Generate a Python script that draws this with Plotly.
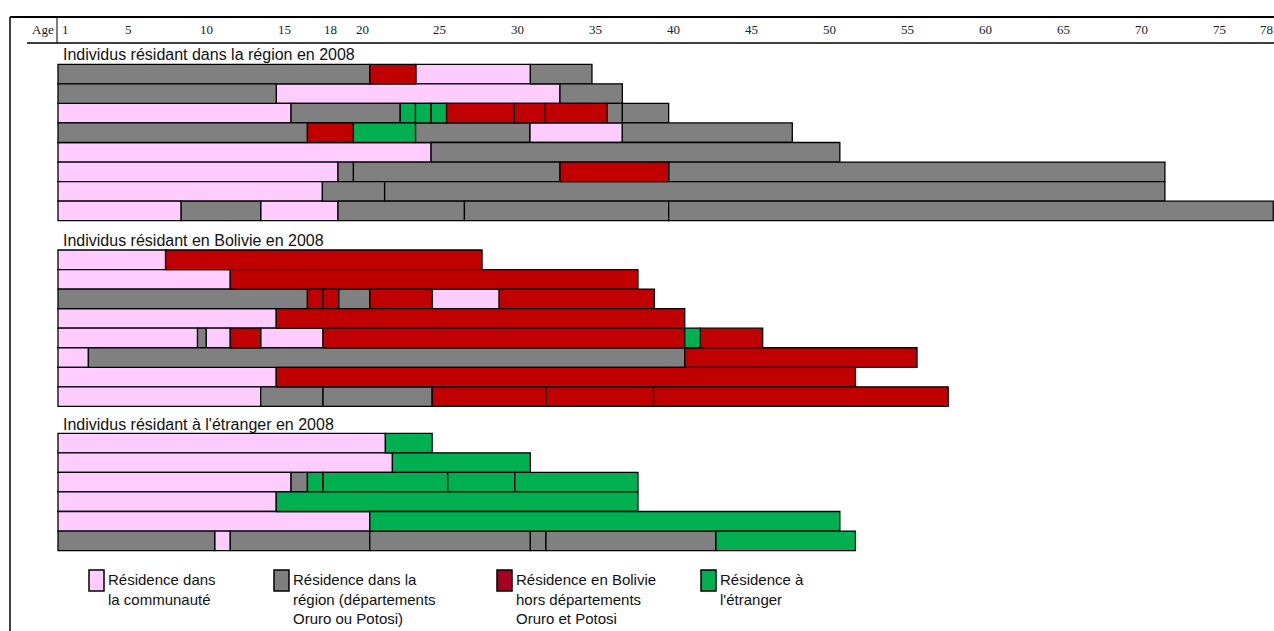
import plotly.graph_objects as go

# ---------------- data ----------------
categories = ["C", "R", "B", "E"]
cat_labels = {
    "C": "Résidence dans<br>la communauté",
    "R": "Résidence dans la<br>région (départements<br>Oruro ou Potosi)",
    "B": "Résidence en Bolivie<br>hors départements<br>Oruro et Potosi",
    "E": "Résidence à<br>l'étranger",
}
group_titles = [
    "Individus résidant dans la région en 2008",
    "Individus résidant en Bolivie en 2008",
    "Individus résidant à l'étranger en 2008",
]

# group 1 : residing in the region in 2008
g1_bounds = [
    [0, 20.0, 22.95, 30.3, 34.25],
    [0, 14.0, 32.2, 36.2],
    [0, 14.95, 21.95, 22.93, 23.93, 24.92, 29.27, 31.26, 35.23, 36.2, 39.17],
    [0, 16.0, 18.95, 22.93, 30.26, 36.2, 47.1],
    [0, 23.93, 50.15],
    [0, 17.96, 18.95, 32.2, 39.17, 71.0],
    [0, 16.96, 20.95, 71.0],
    [0, 7.9, 13.0, 17.96, 26.07, 39.17, 77.95],
]
g1_cats = [
    ["R", "B", "C", "R"],
    ["R", "C", "R"],
    ["C", "R", "E", "E", "E", "B", "B", "B", "R", "R"],
    ["R", "B", "E", "R", "C", "R"],
    ["C", "R"],
    ["C", "R", "R", "B", "R"],
    ["C", "R", "R"],
    ["C", "R", "C", "R", "R", "R"],
]

# group 2 : residing in Bolivia in 2008
g2_bounds = [
    [0, 6.9, 27.2],
    [0, 11.05, 37.2],
    [0, 16.0, 17.0, 18.0, 20.0, 24.0, 28.3, 38.25],
    [0, 14.0, 40.2],
    [0, 8.95, 9.5, 11.05, 13.0, 17.0, 40.2, 41.2, 45.2],
    [0, 1.95, 40.2, 55.1],
    [0, 14.0, 51.15],
    [0, 13.0, 17.0, 24.0, 31.3, 38.2, 57.1],
]
g2_cats = [
    ["C", "B"],
    ["C", "B"],
    ["R", "B", "B", "R", "B", "C", "B"],
    ["C", "B"],
    ["C", "R", "C", "B", "C", "B", "E", "B"],
    ["C", "R", "B"],
    ["C", "B"],
    ["C", "R", "R", "B", "B", "B"],
]

# group 3 : residing abroad in 2008
g3_bounds = [
    [0, 21.0, 24.0],
    [0, 21.45, 30.3],
    [0, 14.95, 16.0, 17.0, 25.0, 29.3, 37.2],
    [0, 14.0, 37.2],
    [0, 20.0, 50.15],
    [0, 10.05, 11.05, 20.0, 30.3, 31.3, 42.2, 51.15],
]
g3_cats = [
    ["C", "E"],
    ["C", "E"],
    ["C", "R", "E", "E", "E", "E"],
    ["C", "E"],
    ["C", "E"],
    ["R", "C", "R", "R", "R", "R", "E"],
]

tick_ages = [1, 5, 10, 15, 18, 20, 25, 30, 35, 40, 45, 50, 55, 60, 65, 70, 75, 78]

# ---------------- styles / layout ----------------
W, H = 1274, 631
X0_PX, PX_PER_YEAR = 58, 15.59
ROW_H = 19.55
group_tops = [64.3, 250.0, 433.3]       # page pixels
title_y = [54, 240.5, 424]              # page pixels

bar_colors = {"C": "#FFCCFF", "R": "#808080", "B": "#C00000", "E": "#00B050"}
legend_colors = {"C": "#FFCCFF", "R": "#7F7F7F", "B": "#A50021", "E": "#00B050"}
legend_box_x = [89, 274, 497, 701]      # page pixels


def fx(px):  # page px -> paper x
    return px / W


groups = [(g1_bounds, g1_cats), (g2_bounds, g2_cats), (g3_bounds, g3_cats)]

seg = {c: {"base": [], "len": [], "y": []} for c in categories}
for gi, (bounds, cats) in enumerate(groups):
    for ri, (b, cs) in enumerate(zip(bounds, cats)):
        yc = group_tops[gi] + (ri + 0.5) * ROW_H
        for k, c in enumerate(cs):
            seg[c]["base"].append(b[k])
            seg[c]["len"].append(b[k + 1] - b[k])
            seg[c]["y"].append(yc)

fig = go.Figure()
for c in categories:
    fig.add_trace(go.Bar(
        orientation="h",
        base=seg[c]["base"], x=seg[c]["len"], y=seg[c]["y"],
        width=ROW_H,
        marker=dict(color=bar_colors[c], line=dict(color="black", width=1.3)),
        showlegend=False, hoverinfo="skip",
    ))

shapes = []
annotations = []

# frame lines
shapes.append(dict(type="line", xref="paper", yref="y", x0=fx(10), x1=1, y0=17, y1=17,
                   line=dict(color="black", width=2.2)))
shapes.append(dict(type="line", xref="paper", yref="y", x0=fx(10), x1=fx(10), y0=17, y1=H,
                   line=dict(color="black", width=1.5)))
shapes.append(dict(type="line", xref="paper", yref="y", x0=fx(27), x1=1, y0=43, y1=43,
                   line=dict(color="black", width=1.3)))
shapes.append(dict(type="line", xref="paper", yref="y", x0=fx(57), x1=fx(57), y0=17, y1=43,
                   line=dict(color="black", width=1)))

# header tick labels
annotations.append(dict(x=fx(43), xref="paper", y=29, yref="y", text="Age", showarrow=False,
                        xanchor="center", yanchor="middle",
                        font=dict(family="Liberation Serif", size=13, color="#222")))
for a in tick_ages:
    annotations.append(dict(x=a - 0.5, xref="x", y=29, yref="y", text=str(a), showarrow=False,
                            xanchor="center", yanchor="middle",
                            font=dict(family="Liberation Serif", size=13, color="#222")))

# group titles
for t, yy in zip(group_titles, title_y):
    annotations.append(dict(x=fx(61), xref="paper", y=yy, yref="y", text=t, showarrow=False,
                            xanchor="left", yanchor="middle",
                            font=dict(family="Liberation Sans", size=16, color="#111")))

# legend
for c, bx in zip(categories, legend_box_x):
    shapes.append(dict(type="rect", xref="paper", yref="y", x0=fx(bx), x1=fx(bx + 15),
                       y0=570, y1=591, fillcolor=legend_colors[c],
                       line=dict(color="black", width=1.5)))
    annotations.append(dict(x=fx(bx + 17), xref="paper", y=569, yref="y", text=cat_labels[c],
                            showarrow=False, xanchor="left", yanchor="top", align="left",
                            font=dict(family="Liberation Sans", size=15, color="#111")))

fig.update_layout(
    width=W, height=H,
    margin=dict(l=0, r=0, t=0, b=0),
    paper_bgcolor="white", plot_bgcolor="white",
    barmode="overlay",
    xaxis=dict(range=[-X0_PX / PX_PER_YEAR, (W - X0_PX) / PX_PER_YEAR], visible=False, fixedrange=True),
    yaxis=dict(range=[H, 0], visible=False, fixedrange=True),
    shapes=shapes, annotations=annotations,
)

fig.write_html(
    "out.html",
    config={"displayModeBar": False},
    post_script="document.body.style.margin='0';document.documentElement.style.overflow='hidden';",
)
